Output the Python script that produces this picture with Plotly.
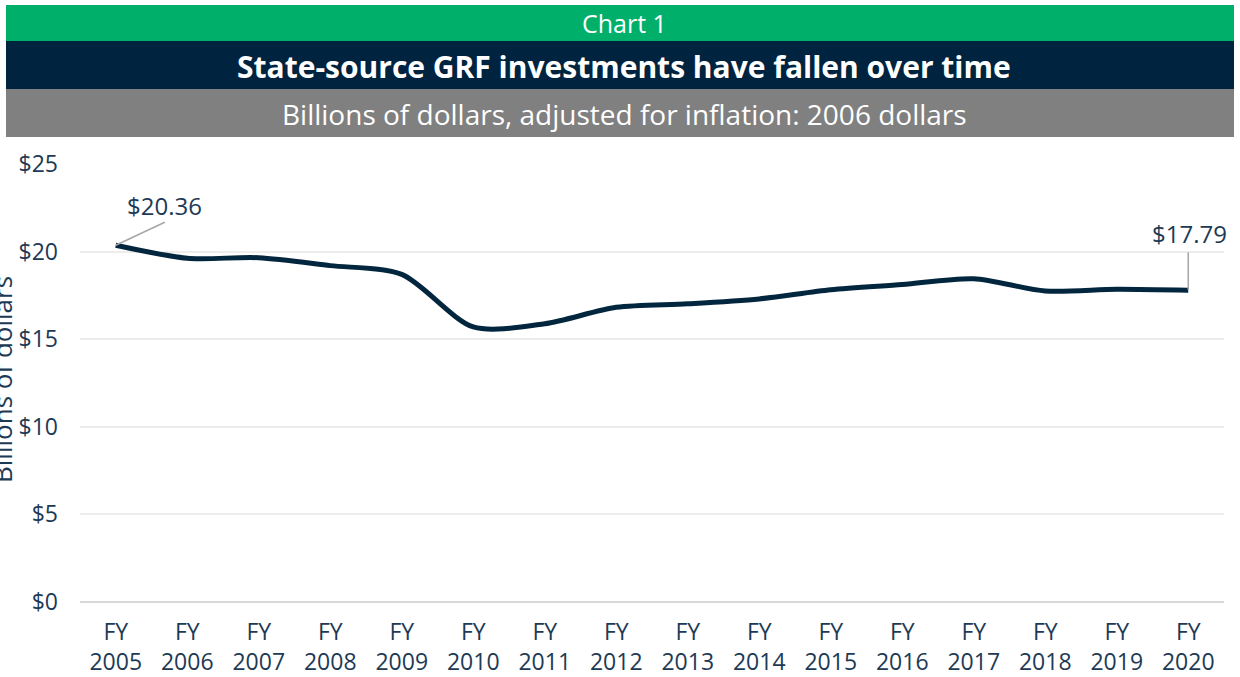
import plotly.graph_objects as go

years = ["2005", "2006", "2007", "2008", "2009", "2010", "2011", "2012",
         "2013", "2014", "2015", "2016", "2017", "2018", "2019", "2020"]
values = [20.36, 19.62, 19.65, 19.2, 18.7, 15.7, 15.88, 16.82,
          17.02, 17.3, 17.82, 18.12, 18.45, 17.75, 17.85, 17.79]
y_ticks = [0, 5, 10, 15, 20, 25]
y_tick_text = ["$0", "$5", "$10", "$15", "$20", "$25"]
chart_label = "Chart 1"
title = "State-source GRF investments have fallen over time"
subtitle = "Billions of dollars, adjusted for inflation: 2006 dollars"
y_title = "Billions of dollars"

W, H = 1240, 677
L, R, T, B = 80, 16, 164, 75
PW, PH = W - L - R, H - T - B


def px(xp):
    return (xp - L) / PW


def py(yp):
    return (H - B - yp) / PH


FONT = "Open Sans"
TXT = "#1D3A55"
NAVY = "#00233F"

idx = list(range(len(years)))
fig = go.Figure()
fig.add_trace(go.Scatter(
    x=idx, y=values, mode="lines",
    line=dict(color="#03263F", width=5, shape="spline", smoothing=0.8),
    hoverinfo="skip", showlegend=False, cliponaxis=False,
))

shapes = [
    dict(type="rect", xref="paper", yref="paper", x0=px(6), x1=px(1234), y0=py(41), y1=py(5),
         fillcolor="#00B06A", line=dict(width=0), layer="below"),
    dict(type="rect", xref="paper", yref="paper", x0=px(6), x1=px(1234), y0=py(89), y1=py(41),
         fillcolor=NAVY, line=dict(width=0), layer="below"),
    dict(type="rect", xref="paper", yref="paper", x0=px(6), x1=px(1234), y0=py(137), y1=py(89),
         fillcolor="#808080", line=dict(width=0), layer="below"),
    dict(type="line", xref="x", yref="y", xsizemode="pixel", ysizemode="pixel",
         xanchor=idx[0], yanchor=values[0], x0=0, x1=49, y0=0, y1=23,
         line=dict(color="#A6A6A6", width=1.5)),
    dict(type="line", xref="x", yref="y", xsizemode="pixel", ysizemode="pixel",
         xanchor=idx[-1], yanchor=values[-1], x0=0, x1=0, y0=0, y1=38,
         line=dict(color="#A6A6A6", width=1.5)),
]

C = dict(xanchor="center", yanchor="middle", showarrow=False)
annotations = [
    dict(text=chart_label, xref="paper", yref="paper", x=px(624), y=py(23),
         font=dict(family=FONT, size=25, color="white"), **C),
    dict(text="<b>" + title + "</b>", xref="paper", yref="paper", x=px(624), y=py(66),
         font=dict(family=FONT, size=30, color="white"), **C),
    dict(text=subtitle, xref="paper", yref="paper", x=px(624), y=py(114),
         font=dict(family=FONT, size=28, color="white"), **C),
    dict(text=y_title, xref="paper", yref="paper", x=px(2), y=py(380), textangle=-90,
         font=dict(family=FONT, size=26, color=TXT), **C),
    dict(text="$%.2f" % values[0], xref="x", yref="y", x=idx[0], y=values[0],
         xshift=49, yshift=40, font=dict(family=FONT, size=24, color=TXT), **C),
    dict(text="$%.2f" % values[-1], xref="x", yref="y", x=idx[-1], y=values[-1],
         xshift=1, yshift=57, font=dict(family=FONT, size=24, color=TXT), **C),
]

fig.update_layout(
    width=W, height=H,
    margin=dict(l=L, r=R, t=T, b=B, pad=0, autoexpand=False),
    paper_bgcolor="white", plot_bgcolor="white",
    shapes=shapes, annotations=annotations,
    font=dict(family=FONT, color=TXT),
    xaxis=dict(
        range=[-0.5, len(years) - 0.5], tickmode="array", tickvals=idx,
        ticktext=["FY<br>" + y for y in years], showgrid=False, zeroline=False,
        showline=False, ticks="", ticklabelstandoff=14, automargin=False,
        tickfont=dict(family=FONT, size=23, color=TXT), fixedrange=True,
    ),
    yaxis=dict(
        range=[0, 25], tickmode="array", tickvals=y_ticks, ticktext=y_tick_text,
        showgrid=True, gridcolor="#EDEDED", gridwidth=1.5,
        zeroline=True, zerolinecolor="#D9D9D9", zerolinewidth=2,
        showline=False, ticks="", ticklabelstandoff=21, automargin=False,
        tickfont=dict(family=FONT, size=23, color=TXT), fixedrange=True,
    ),
)

fig.write_html("out.html", config={"displayModeBar": False},
               post_script="document.body.style.margin='0';")
